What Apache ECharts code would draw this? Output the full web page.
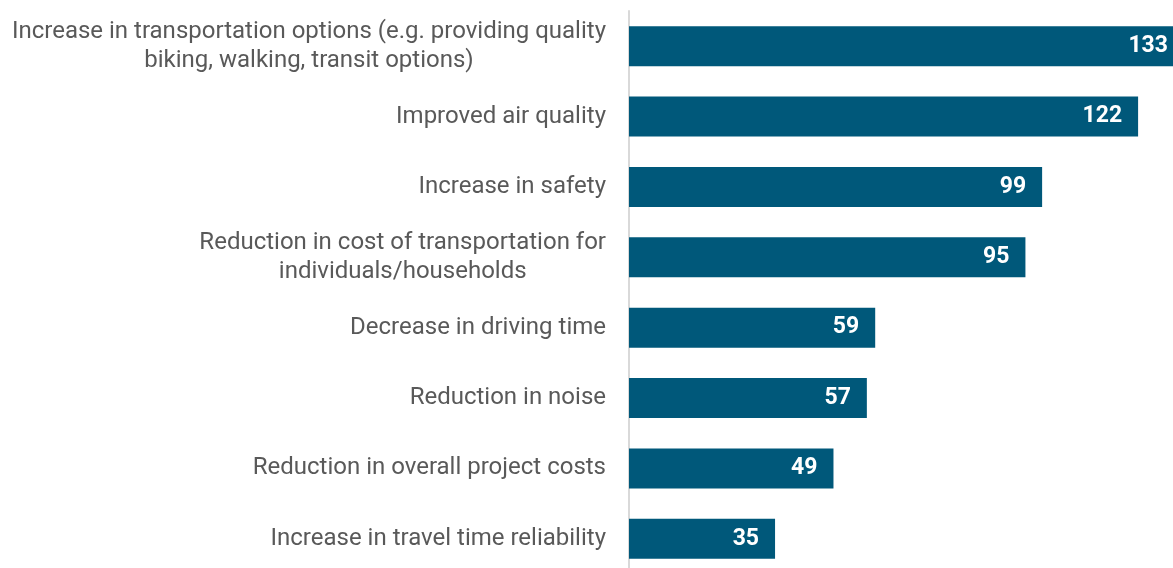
<!DOCTYPE html>
<html>
<head>
<meta charset="utf-8">
<script src="https://cdn.jsdelivr.net/npm/echarts@6/dist/echarts.min.js"></script>
<style>
  html, body { margin: 0; padding: 0; background: #fff; overflow: hidden; }
  #main { width: 1200px; height: 590px; }
</style>
</head>
<body>
<div id="main"></div>
<script>
// categories from top to bottom
const categories = [
  'Increase in transportation options (e.g. providing quality\nbiking, walking, transit options)',
  'Improved air quality',
  'Increase in safety',
  'Reduction in cost of transportation for\nindividuals/households',
  'Decrease in driving time',
  'Reduction in noise',
  'Reduction in overall project costs',
  'Increase in travel time reliability'
];
const counts = [133, 122, 99, 95, 59, 57, 49, 35];

const myChart = echarts.init(document.getElementById('main'));

let option = {
  animation: false,
  grid: {
    left: 629,
    top: 11,
    width: 555,
    height: 563,
    containLabel: false
  },
  xAxis: {
    type: 'value',
    min: 0,
    max: 133,
    show: false
  },
  yAxis: {
    type: 'category',
    inverse: true,
    data: categories,
    axisLine: { show: true, lineStyle: { color: '#d9d9d9', width: 2 } },
    axisTick: { show: false },
    axisLabel: {
      margin: 23,
      color: '#595959',
      fontFamily: 'Roboto',
      fontSize: 24,
      lineHeight: 29,
      formatter: v => v.split('\n').map(s => '{c|' + s + '}').join('\n'),
      rich: {
        c: { align: 'center', color: '#595959', fontFamily: 'Roboto', fontSize: 24, lineHeight: 29 }
      }
    }
  },
  series: [{
    type: 'bar',
    data: counts,
    barWidth: 40,
    itemStyle: { color: '#00587a' },
    label: {
      show: true,
      position: 'insideRight',
      distance: 16,
      color: '#fff',
      fontFamily: 'Roboto',
      fontWeight: 'bold',
      fontSize: 23
    }
  }]
};

myChart.setOption(option);
</script>
</body>
</html>
